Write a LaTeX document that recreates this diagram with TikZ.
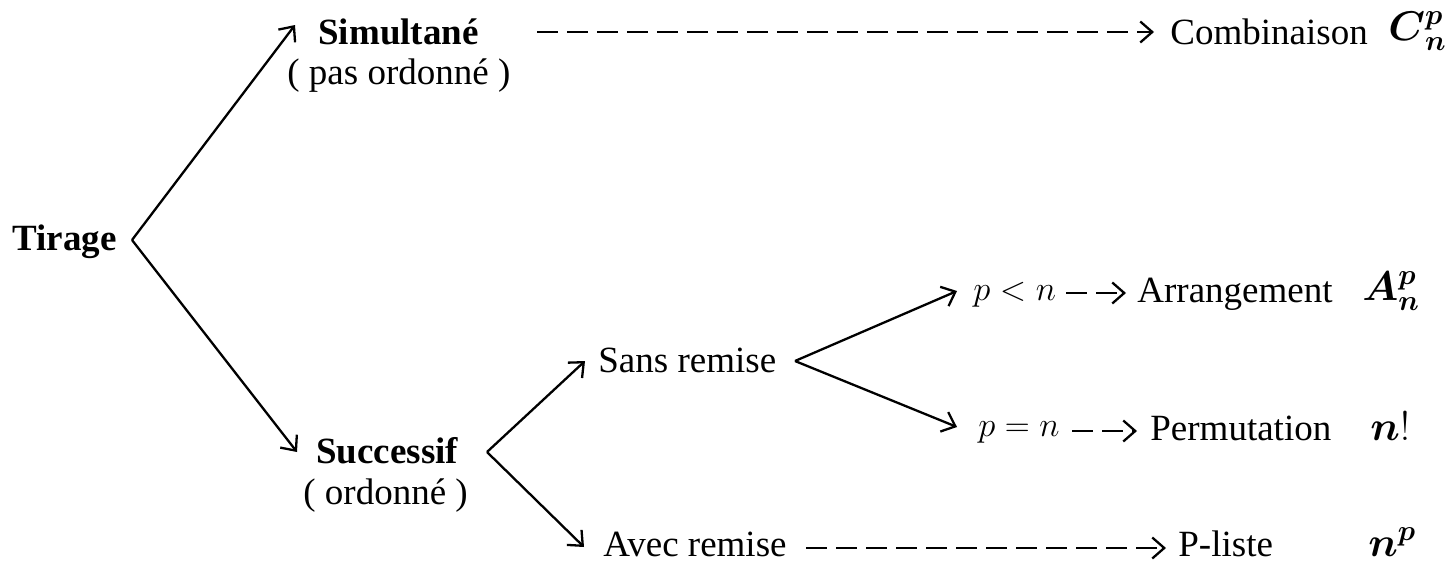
\documentclass[tikz,border=0pt]{standalone}
\usepackage{amsmath}
\usepackage{bm}
\usepackage{fontspec}
\setmainfont{Liberation Serif}
\usetikzlibrary{arrows.meta}
\tikzset{
  txt/.style={inner sep=0pt, anchor=base west, font=\fontsize{18.5}{21}\selectfont},
  btxt/.style={txt, font=\fontsize{18.5}{21}\selectfont\bfseries},
  mth/.style={inner sep=0pt, anchor=base west, font=\fontsize{16}{20}\selectfont},
  bmth/.style={inner sep=0pt, anchor=base west, font=\fontsize{20}{22}\selectfont},
  tip/.style={-{Straight Barb[length=6pt,width=10.5pt,line width=1.15pt]}},
  arr/.style={line width=1.15pt, tip},
  darr/.style={line width=1.2pt, dash pattern=on 10.5pt off 4.5pt, tip}
}
\begin{document}
\begin{tikzpicture}[x=0.5pt,y=-0.5pt]
\useasboundingbox (0,0) rectangle (1452,569);

% labels
\node[btxt] (tirage) at (12,250) {Tirage};
\node[btxt] (simult) at (318,44) {Simultané};
\node[txt] (pasord) at (287,84) {( pas ordonné )};
\node[btxt] (succ) at (316,463) {Successif};
\node[txt] (ord) at (303,504) {( ordonné )};
\node[txt] (sans) at (598,372) {Sans remise};
\node[txt] (avec) at (603,556) {Avec remise};
\node[mth] (pinf) at (973,300) {$p<n$};
\node[mth] (pegal) at (978,436) {$p=n$};

\node[txt] (comb) at (1170,44) {Combinaison};
\node[bmth] (cnp) at (1388,40) {$\bm{C}{}^{\bm{p}}_{\bm{n}}$};
\node[txt] (arrang) at (1137,302) {Arrangement};
\node[bmth] (anp) at (1362,300) {$\bm{A}{}^{\bm{p}}_{\bm{n}}$};
\node[txt] (perm) at (1150,440) {Permutation};
\node[bmth] (fact) at (1370,440) {$\bm{n}!$};
\node[txt] (pliste) at (1178,556) {P-liste};
\node[bmth] (npow) at (1368,556) {$\bm{n}^{\bm{p}}$};

% branching points and arrow tips
\coordinate (v0) at (132,240);
\coordinate (v1) at (487,452);
\coordinate (v2) at (795,361);
\coordinate (t1) at (295,25);
\coordinate (t2) at (297,452);
\coordinate (t3) at (585,361);
\coordinate (t4) at (584,547);
\coordinate (t5) at (957,291);
\coordinate (t6) at (957,427);

\draw[arr] (v0) -- (t1);
\draw[arr] (v0) -- (t2);
\draw[arr] (v1) -- (t3);
\draw[arr] (v1) -- (t4);
\draw[arr] (v2) -- (t5);
\draw[arr] (v2) -- (t6);

% dashed links to the counting formulas
\coordinate (d1a) at (537,32);   \coordinate (d1b) at (1154,32);
\coordinate (d2a) at (1066,293); \coordinate (d2b) at (1126,293);
\coordinate (d3a) at (1072,431); \coordinate (d3b) at (1137,431);
\coordinate (d4a) at (806,548);  \coordinate (d4b) at (1166,548);
\draw[darr] (d1a) -- (d1b);
\draw[darr] (d2a) -- (d2b);
\draw[darr] (d3a) -- (d3b);
\draw[darr] (d4a) -- (d4b);
\end{tikzpicture}
\end{document}
